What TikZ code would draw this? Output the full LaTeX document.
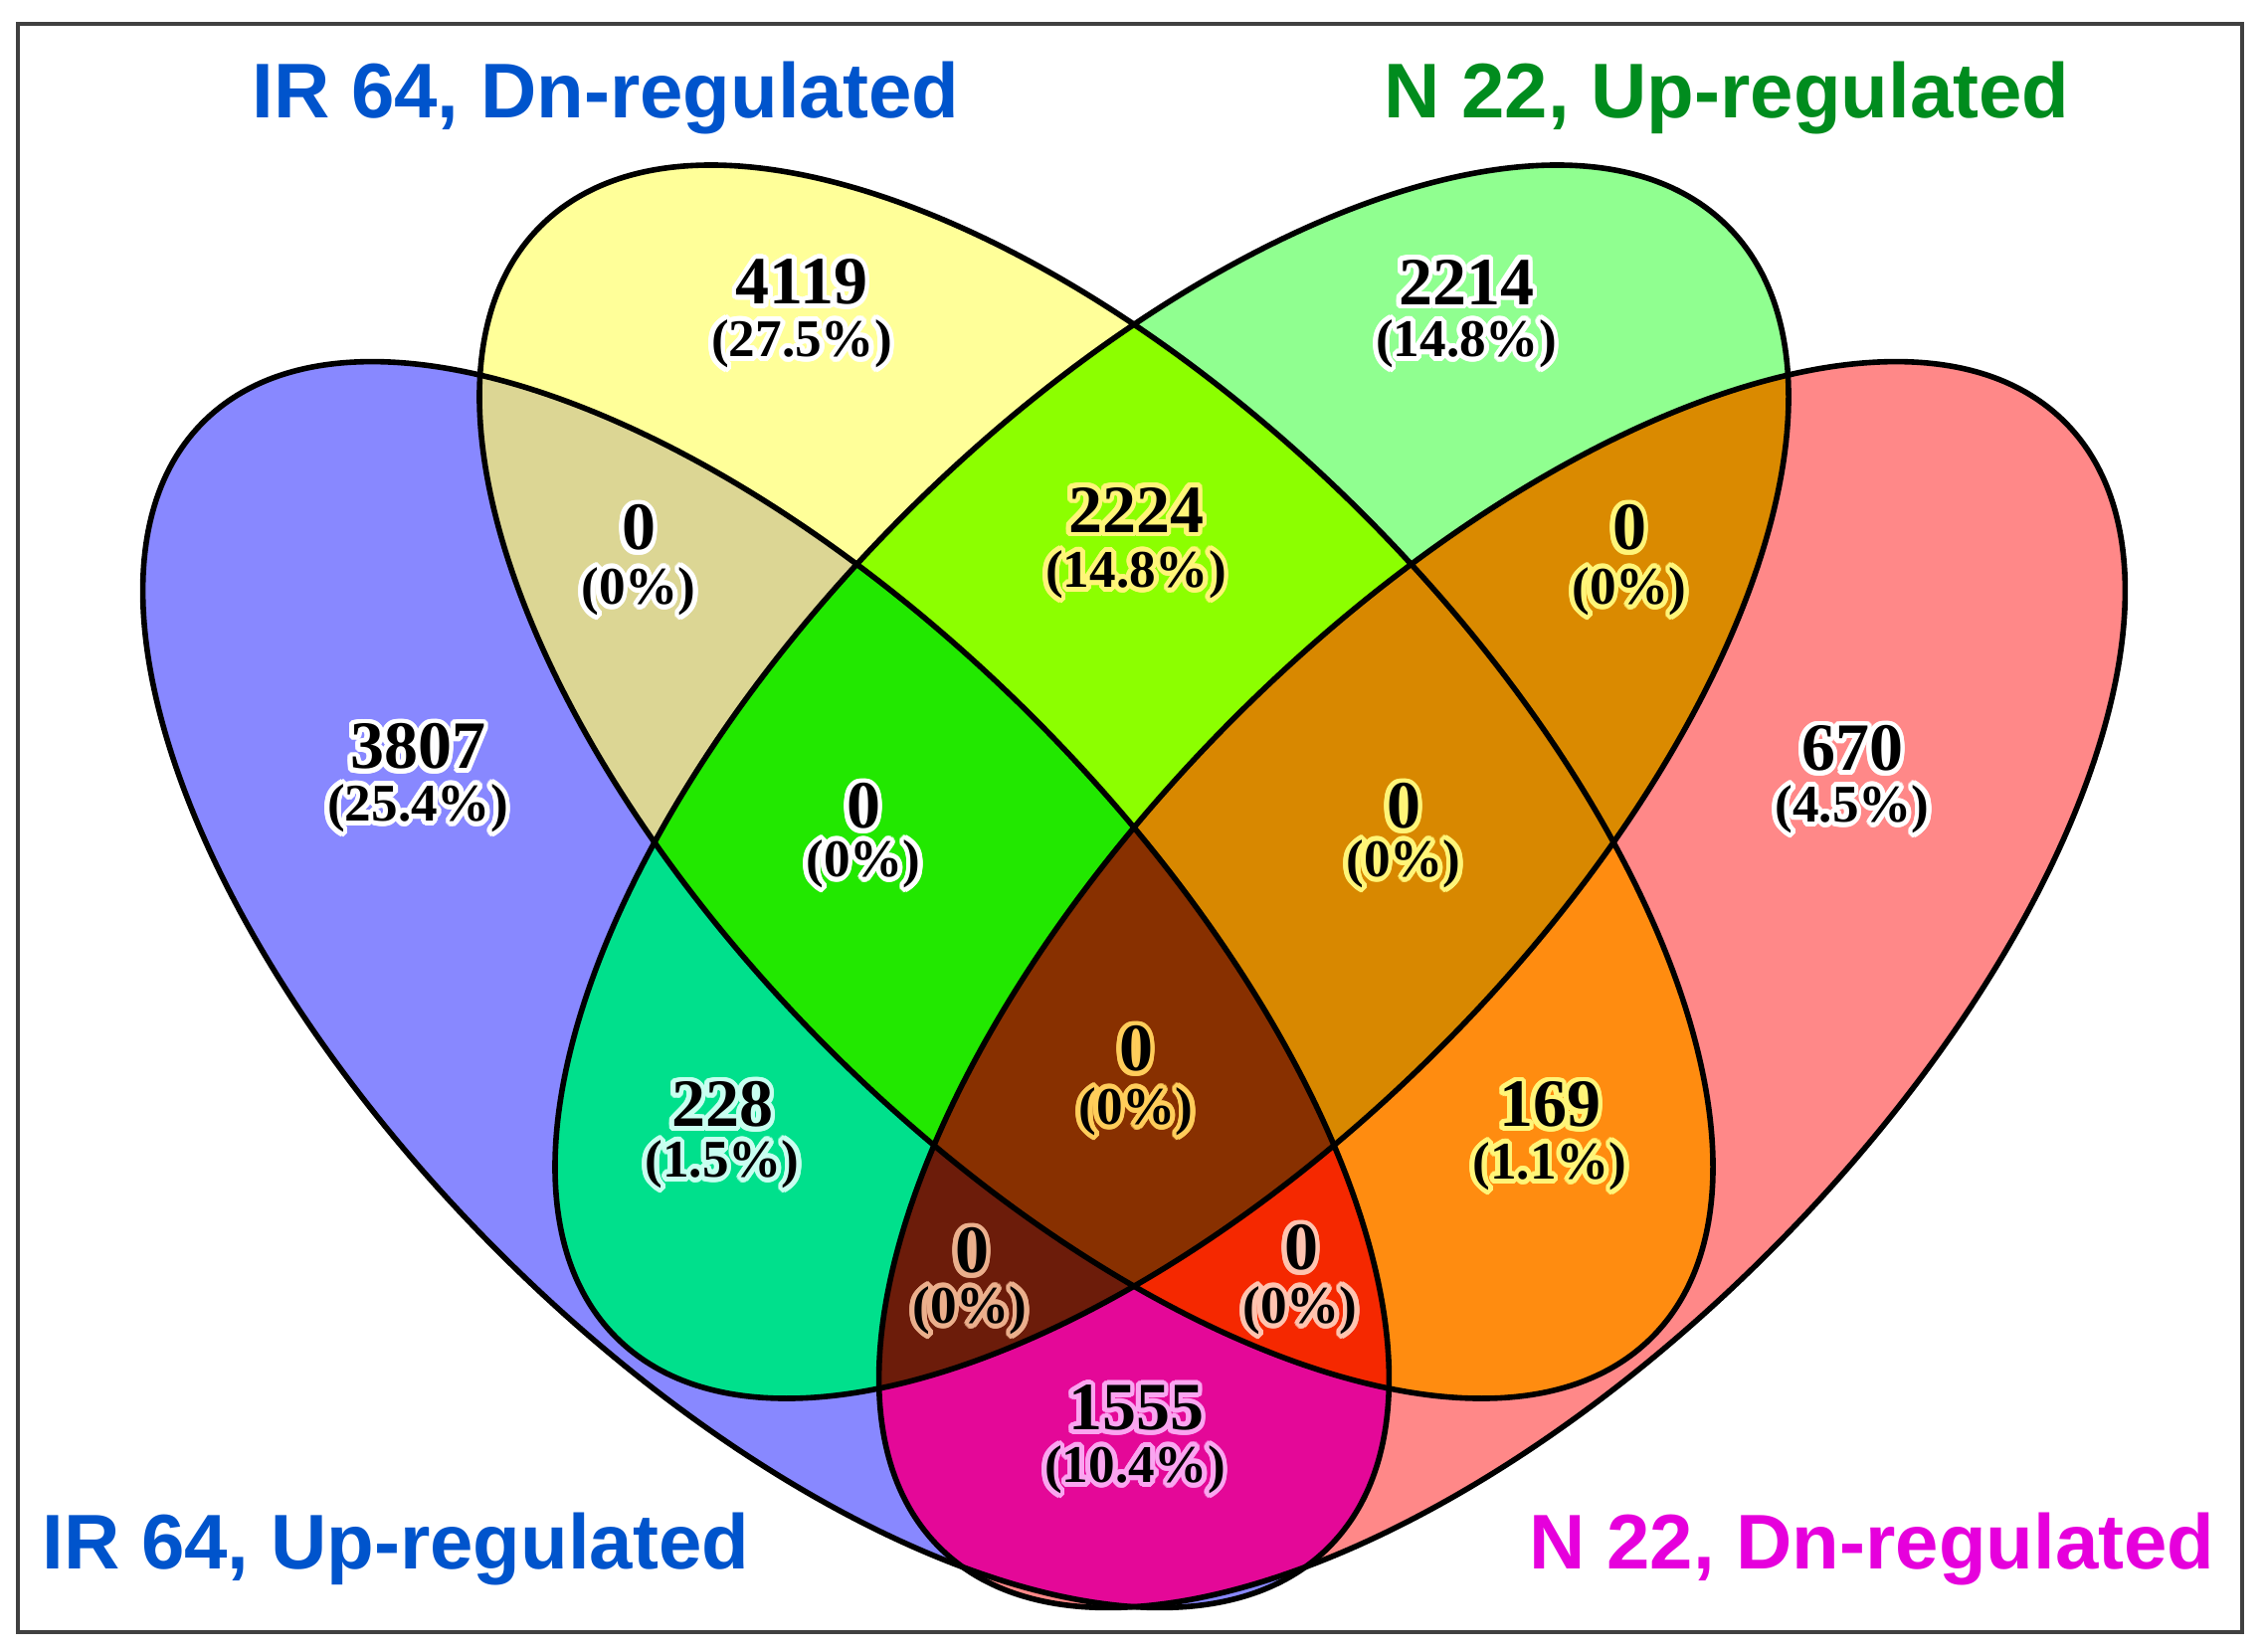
\documentclass[tikz,border=0pt]{standalone}
\usepackage{fontspec}
\setmainfont{Liberation Serif}
\newfontfamily\titlefont{Liberation Sans}
\usepackage{contour}
\contourlength{1.2pt}
\contournumber{24}
\definecolor{cA}{RGB}{136,136,255}
\definecolor{cB}{RGB}{255,255,153}
\definecolor{cC}{RGB}{144,255,144}
\definecolor{cD}{RGB}{255,136,136}
\definecolor{cAB}{RGB}{220,214,148}
\definecolor{cAC}{RGB}{0,224,140}
\definecolor{cAD}{RGB}{228,8,152}
\definecolor{cBC}{RGB}{140,255,0}
\definecolor{cBD}{RGB}{255,140,16}
\definecolor{cCD}{RGB}{218,138,0}
\definecolor{cABC}{RGB}{34,232,0}
\definecolor{cABD}{RGB}{245,40,0}
\definecolor{cACD}{RGB}{108,28,10}
\definecolor{cBCD}{RGB}{216,136,0}
\definecolor{cABCD}{RGB}{136,48,0}
\definecolor{tblue}{RGB}{0,84,204}
\definecolor{tgreen}{RGB}{0,140,30}
\definecolor{tmag}{RGB}{230,0,220}
\definecolor{hY}{RGB}{255,245,120}
\definecolor{hG}{RGB}{255,205,90}
\definecolor{hT}{RGB}{200,255,240}
\definecolor{hB}{RGB}{235,175,140}
\definecolor{hR}{RGB}{255,195,175}
\definecolor{hM}{RGB}{250,165,240}
\begin{document}
\begin{tikzpicture}[x=0.25pt,y=-0.25pt,
  eA/.style={rotate around={-45:(770,990)}},
  eB/.style={rotate around={-45:(1102,786)}},
  eC/.style={rotate around={45:(1178,786)}},
  eD/.style={rotate around={45:(1510,990)}},
  num/.style={font=\fontsize{17}{20}\selectfont\bfseries, inner sep=0pt},
  pct/.style={font=\fontsize{13.3}{16}\selectfont\bfseries, inner sep=0pt},
  ttl/.style={font=\titlefont\fontsize{19.5}{23}\selectfont\bfseries, anchor=base, inner sep=0pt},
  edge/.style={draw=black, line width=1.4pt}]
\def\pA{(770,990) ellipse [x radius=800, y radius=380]}
\def\pB{(1102,786) ellipse [x radius=790, y radius=380]}
\def\pC{(1178,786) ellipse [x radius=790, y radius=380]}
\def\pD{(1510,990) ellipse [x radius=800, y radius=380]}
\useasboundingbox (0,0) rectangle (2276,1660);
\fill[white] (0,0) rectangle (2276,1660);
% single sets
\fill[cA,eA] \pA;
\fill[cB,eB] \pB;
\fill[cC,eC] \pC;
\fill[cD,eD] \pD;
% pairs
\begin{scope}\clip[eA] \pA; \fill[cAB,eB] \pB; \end{scope}
\begin{scope}\clip[eA] \pA; \fill[cAC,eC] \pC; \end{scope}
\begin{scope}\clip[eA] \pA; \fill[cAD,eD] \pD; \end{scope}
\begin{scope}\clip[eB] \pB; \fill[cBC,eC] \pC; \end{scope}
\begin{scope}\clip[eB] \pB; \fill[cBD,eD] \pD; \end{scope}
\begin{scope}\clip[eC] \pC; \fill[cCD,eD] \pD; \end{scope}
% triples
\begin{scope}\clip[eA] \pA; \clip[eB] \pB; \fill[cABC,eC] \pC; \end{scope}
\begin{scope}\clip[eA] \pA; \clip[eB] \pB; \fill[cABD,eD] \pD; \end{scope}
\begin{scope}\clip[eA] \pA; \clip[eC] \pC; \fill[cACD,eD] \pD; \end{scope}
\begin{scope}\clip[eB] \pB; \clip[eC] \pC; \fill[cBCD,eD] \pD; \end{scope}
% all four
\begin{scope}\clip[eA] \pA; \clip[eB] \pB; \clip[eC] \pC; \fill[cABCD,eD] \pD; \end{scope}
% outlines
\draw[edge,eA] \pA;
\draw[edge,eB] \pB;
\draw[edge,eC] \pC;
\draw[edge,eD] \pD;
% frame
\draw[line width=0.8pt, black!75] (18,24) rectangle (2254,1641);
% titles
\node[ttl, text=tblue] (tIRdn) at (609,118) {IR 64, Dn-regulated};
\node[ttl, text=tgreen] (tNup) at (1736,118) {N 22, Up-regulated};
\node[ttl, text=tblue] (tIRup) at (398,1577) {IR 64, Up-regulated};
\node[ttl, text=tmag] (tNdn) at (1882,1577) {N 22, Dn-regulated};
% counts
\node[num] (nA) at (420,753) {\contour{white}{3807}};
\node[pct] (pA) at (420,815) {\contour{white}{(25.4\%)}};
\node[num] (nB) at (806,286) {\contour{white}{4119}};
\node[pct] (pB) at (806,348) {\contour{white}{(27.5\%)}};
\node[num] (nC) at (1474,286) {\contour{white}{2214}};
\node[pct] (pC) at (1474,348) {\contour{white}{(14.8\%)}};
\node[num] (nD) at (1862,755) {\contour{white}{670}};
\node[pct] (pD) at (1862,816) {\contour{white}{(4.5\%)}};
\node[num] (nAB) at (642,533) {\contour{white}{0}};
\node[pct] (pAB) at (642,597) {\contour{white}{(0\%)}};
\node[num] (nBC) at (1142,515) {\contour{hY}{2224}};
\node[pct] (pBC) at (1142,580) {\contour{hY}{(14.8\%)}};
\node[num] (nCD) at (1638,533) {\contour{hY}{0}};
\node[pct] (pCD) at (1638,597) {\contour{hY}{(0\%)}};
\node[num] (nABC) at (868,813) {\contour{white}{0}};
\node[pct] (pABC) at (868,871) {\contour{white}{(0\%)}};
\node[num] (nBCD) at (1411,813) {\contour{hY}{0}};
\node[pct] (pBCD) at (1411,871) {\contour{hY}{(0\%)}};
\node[num] (nAC) at (726,1113) {\contour{hT}{228}};
\node[pct] (pAC) at (726,1173) {\contour{hT}{(1.5\%)}};
\node[num] (nABCD) at (1142,1057) {\contour{hG}{0}};
\node[pct] (pABCD) at (1142,1120) {\contour{hG}{(0\%)}};
\node[num] (nBD) at (1558,1113) {\contour{hY}{169}};
\node[pct] (pBD) at (1558,1175) {\contour{hY}{(1.1\%)}};
\node[num] (nACD) at (977,1260) {\contour{hB}{0}};
\node[pct] (pACD) at (975,1320) {\contour{hB}{(0\%)}};
\node[num] (nABD) at (1308,1257) {\contour{hR}{0}};
\node[pct] (pABD) at (1307,1320) {\contour{hR}{(0\%)}};
\node[num] (nAD) at (1142,1418) {\contour{hM}{1555}};
\node[pct] (pAD) at (1141,1480) {\contour{hM}{(10.4\%)}};
\end{tikzpicture}
\end{document}
